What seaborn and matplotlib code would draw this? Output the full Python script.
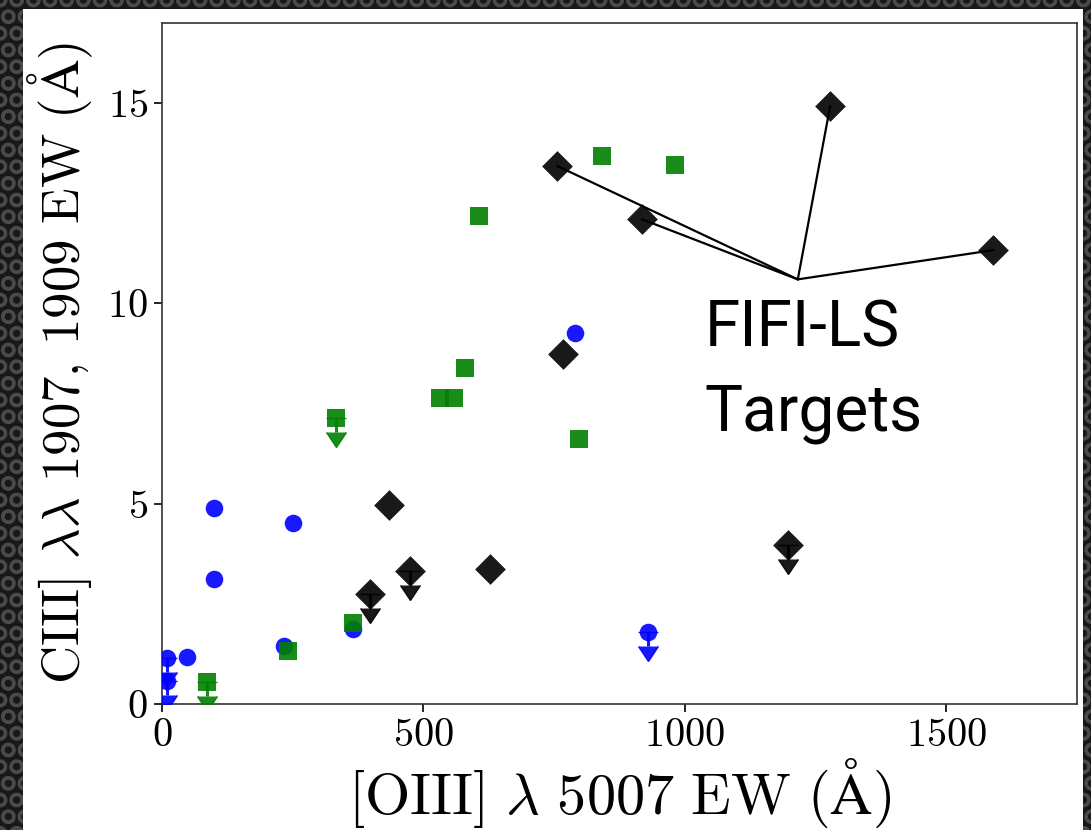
import matplotlib
matplotlib.use("Agg")
import matplotlib.pyplot as plt
import seaborn as sns
import pandas as pd
from matplotlib.patches import Rectangle

# ---- data ----
blue_x = [9, 9, 48, 100, 100, 251, 234, 366, 790, 929]
blue_y = [1.15, 0.58, 1.18, 4.90, 3.12, 4.52, 1.45, 1.87, 9.27, 1.80]
blue_ul = [True, True, False, False, False, False, False, False, False, True]

green_x = [87, 241, 366, 333, 531, 559, 580, 606, 797, 841, 981]
green_y = [0.55, 1.33, 2.02, 7.15, 7.63, 7.65, 8.40, 12.18, 6.62, 13.68, 13.45]
green_ul = [True, False, False, True, False, False, False, False, False, False, False]

black_x = [397, 475, 435, 627, 767, 756, 918, 1278, 1590, 1197]
black_y = [2.75, 3.33, 4.98, 3.38, 8.73, 13.43, 12.10, 14.93, 11.33, 3.98]
black_ul = [True, True, False, False, False, False, False, False, False, True]

fifi_x = [756, 918, 1278, 1590]
fifi_y = [13.43, 12.10, 14.93, 11.33]
label_point = (1216, 10.6)
label_text = "FIFI-LS\nTargets"

xticks = [0, 500, 1000, 1500]
yticks = [0, 5, 10, 15]
xlabel = r"$\mathrm{[OIII]}\ \lambda\ 5007\ \mathrm{EW}\ (\mathrm{\AA})$"
ylabel = r"$\mathrm{CIII]}\ \lambda\lambda\ 1907,\,1909\ \mathrm{EW}\ (\mathrm{\AA})$"

# ---- style ----
sns.set_style("ticks")
plt.rcParams.update({
    "font.family": ["serif"],
    "font.serif": ["cmr10"],
    "mathtext.fontset": "cm",
    "axes.formatter.use_mathtext": True,
    "hatch.linewidth": 2.2,
})

W, H = 1091, 830
fig = plt.figure(figsize=(W / 100, H / 100), dpi=100, facecolor="#181818")
fig.patch.set_edgecolor("#4a4a4a")
fig.patch.set_linewidth(0)
fig.patch.set_hatch("O")

fig.add_artist(Rectangle((23 / W, 0), 1060 / W, 821 / H, transform=fig.transFigure,
                         facecolor="white", edgecolor="none", zorder=-1))

ax = fig.add_axes([162 / W, (830 - 704) / H, (1077 - 162) / W, (704 - 23) / H])
ax.set_facecolor("white")

groups = [
    (blue_x, blue_y, blue_ul, "o", "#0000ff", 160),
    (green_x, green_y, green_ul, "s", "#008000", 170),
    (black_x, black_y, black_ul, "D", "#000000", 245),
]
for gx, gy, gul, mk, col, size in groups:
    df = pd.DataFrame({"x": gx, "y": gy, "ul": gul})
    sns.scatterplot(data=df, x="x", y="y", marker=mk, color=col, s=size,
                    alpha=0.9, linewidth=0, ax=ax, zorder=3)
    lim = df[df["ul"]]
    eb = ax.errorbar(lim["x"], lim["y"], yerr=0.35, uplims=True, fmt="none",
                     ecolor=col, elinewidth=2.2, capsize=7, alpha=0.9, zorder=4)
    for cap in eb.lines[1]:
        cap.set_markerfacecolor(col)
        cap.set_markeredgecolor(col)
        cap.set_color(col)

for tx, ty in zip(fifi_x, fifi_y):
    ax.annotate("", xy=(tx, ty), xytext=label_point,
                arrowprops=dict(arrowstyle="-", color="black", lw=1.6,
                                shrinkA=0, shrinkB=0), zorder=5)

ax.text(1038, 10.15, label_text, ha="left", va="top", fontsize=46,
        family=["Roboto", "DejaVu Sans"], fontweight="normal", color="black",
        linespacing=1.45, zorder=6)

ax.set_xlim(0, 1750)
ax.set_ylim(0, 17)
ax.set_xticks(xticks)
ax.set_yticks(yticks)
ax.tick_params(direction="out", length=6, width=1.2, labelsize=29, pad=4,
               colors="black", top=False, right=False)
for s in ax.spines.values():
    s.set_visible(True)
    s.set_color("#333333")
    s.set_linewidth(1.2)

ax.set_xlabel(xlabel, fontsize=42, labelpad=2, color="black")
ax.set_ylabel(ylabel, fontsize=38, labelpad=9, color="black")

fig.savefig("out.png", dpi=100, facecolor=fig.get_facecolor())
